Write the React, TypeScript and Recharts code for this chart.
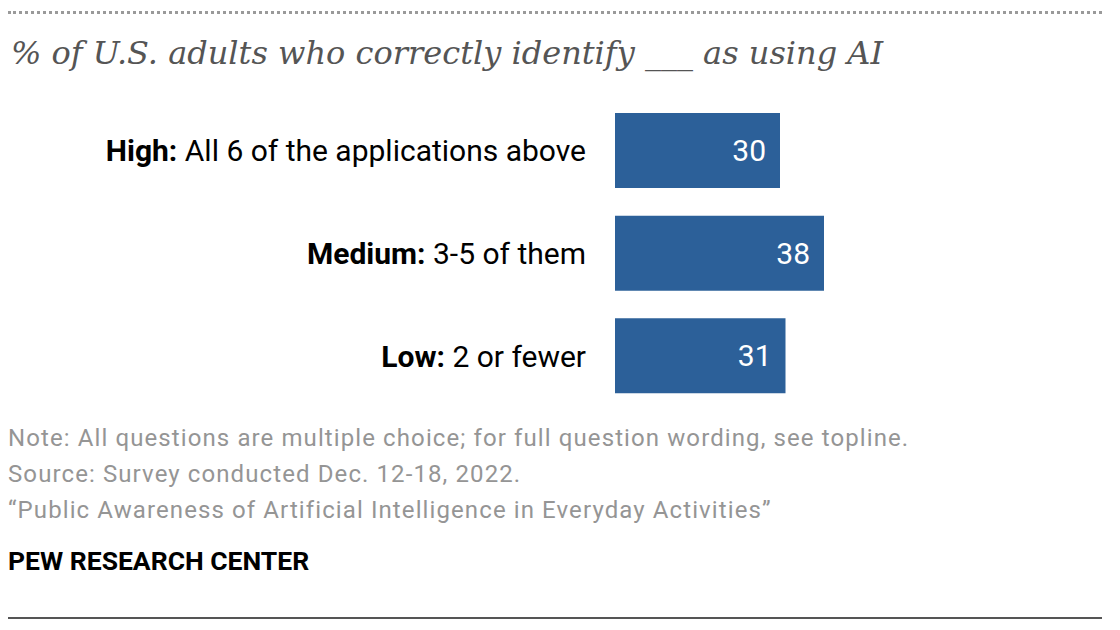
import { BarChart, Bar, XAxis, YAxis, LabelList } from "recharts";

// Pew-style single-series horizontal bars
const BLUE = "#2c6099";
const SANS = "'Roboto', 'Liberation Sans', sans-serif";

const levels = ["High:", "Medium:", "Low:"];
const levelDetails = ["All 6 of the applications above", "3-5 of them", "2 or fewer"];
const shares = [30, 38, 31];

const data = levels.map((level, i) => ({
  level,
  detail: levelDetails[i],
  value: shares[i],
}));

function LevelTick(props: any) {
  const { y, payload } = props;
  const row = data.find((d) => d.level === payload.value);
  return (
    <text
      x={586}
      y={y}
      dy={11}
      textAnchor="end"
      fontFamily={SANS}
      fontSize={30}
      fill="#000"
    >
      <tspan fontWeight="bold">{payload.value}</tspan>
      <tspan> {row ? row.detail : ""}</tspan>
    </text>
  );
}

export default function App() {
  return (
    <div
      style={{
        position: "absolute",
        left: 0,
        top: 0,
        width: 1120,
        height: 630,
        background: "#fff",
        overflow: "hidden",
      }}
    >
      {/* dotted rule on top */}
      <div
        style={{
          position: "absolute",
          left: 8,
          top: 11,
          width: 1094,
          borderTop: "3px dotted #9a9a9a",
        }}
      />
      <div
        style={{
          position: "absolute",
          left: 11,
          top: 34,
          fontFamily: "'DejaVu Serif', 'Liberation Serif', serif",
          fontStyle: "italic",
          fontSize: 32,
          color: "#555",
          whiteSpace: "nowrap",
        }}
      >
        % of U.S. adults who correctly identify ___ as using AI
      </div>

      <div style={{ position: "absolute", left: 0, top: 99 }}>
        <BarChart
          width={1120}
          height={308}
          data={data}
          layout="vertical"
          margin={{ top: 0, right: 65, bottom: 0, left: 0 }}
        >
          <XAxis type="number" domain={[0, 80]} hide />
          <YAxis
            type="category"
            dataKey="level"
            width={615}
            axisLine={false}
            tickLine={false}
            tick={<LevelTick />}
          />
          <Bar dataKey="value" fill={BLUE} barSize={75} isAnimationActive={false}>
            <LabelList
              dataKey="value"
              position="insideRight"
              offset={14}
              fill="#fff"
              fontFamily={SANS}
              fontSize={30}
            />
          </Bar>
        </BarChart>
      </div>

      <div
        style={{
          position: "absolute",
          left: 8,
          top: 420,
          fontFamily: SANS,
          fontSize: 24,
          letterSpacing: 1.1,
          lineHeight: "36px",
          color: "#959595",
          whiteSpace: "nowrap",
        }}
      >
        <div>Note: All questions are multiple choice; for full question wording, see topline.</div>
        <div>Source: Survey conducted Dec. 12-18, 2022.</div>
        <div>“Public Awareness of Artificial Intelligence in Everyday Activities”</div>
      </div>
      <div
        style={{
          position: "absolute",
          left: 8,
          top: 545,
          fontFamily: SANS,
          fontSize: 26.5,
          fontWeight: "bold",
          color: "#000",
        }}
      >
        PEW RESEARCH CENTER
      </div>
      <div
        style={{
          position: "absolute",
          left: 8,
          top: 617,
          width: 1094,
          borderTop: "2px solid #555",
        }}
      />
    </div>
  );
}
